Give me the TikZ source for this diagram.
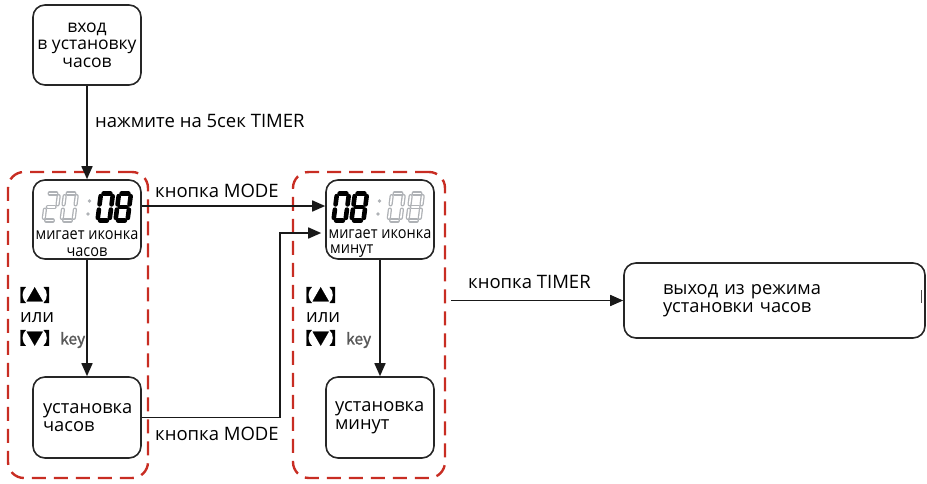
\documentclass[tikz,border=0pt]{standalone}
\usepackage{fontspec}
\setmainfont{Open Sans}
\newfontfamily\cjk{Noto Sans CJK SC}[FakeBold=1.6]
\usetikzlibrary{arrows.meta,calc}
\definecolor{dashred}{RGB}{200,45,35}
\definecolor{segoff}{RGB}{175,178,182}
\def\SA{(2.6,0)--(9.4,0)}
\def\SB{(12,2.6)--(12,10.9)}
\def\SC{(12,16.1)--(12,24.4)}
\def\SD{(2.6,27)--(9.4,27)}
\def\SE{(0,16.1)--(0,24.4)}
\def\SF{(0,2.6)--(0,10.9)}
\def\SG{(2.6,13.5)--(9.4,13.5)}
\newcommand\segdigit[4]{%
  \begin{scope}[shift={(#1,#2)},xslant=0.13]
    \foreach \p in {#4}{\draw[#3] \p;}
  \end{scope}}
\newcommand\tallt[1]{\scalebox{1}[1.12]{#1}}
\begin{document}
\begin{tikzpicture}[x=1pt,y=-1pt,
  box/.style={draw=black!85, line width=1.6pt, rounded corners=12pt, inner sep=0pt, font=\fontsize{18.3}{18}\selectfont},
  grp/.style={draw=dashred, line width=2.4pt, dash pattern=on 14pt off 8pt, rounded corners=16pt, inner sep=0pt},
  arr/.style={line width=1.6pt, draw=black!90, -{Triangle[length=13pt,width=11pt]}},
  lbl/.style={font=\fontsize{18.5}{20}\selectfont, inner sep=0pt, anchor=west},
  small/.style={font=\fontsize{14.5}{15}\selectfont, inner sep=0pt},
  keyl/.style={font=\cjk\fontsize{17}{18}\selectfont, inner sep=0pt, anchor=west},
  segon/.style={line width=4.6pt, black, line cap=round},
  segoffst/.style={line width=1.3pt, draw=segoff, double=white, double distance=1.6pt, line cap=round}
]
\useasboundingbox (0,0) rectangle (927,483);

% groups
\node[grp, minimum width=140pt, minimum height=306pt] (g1) at (78,325) {};
\node[grp, minimum width=152pt, minimum height=306pt] (g2) at (369,325) {};

% boxes
\node[box, minimum width=108pt, minimum height=80pt, align=center, font=\fontsize{17.5}{17.5}\selectfont] (b1) at (87,45) {вход\\в установку\\часов};
\node[box, minimum width=108pt, minimum height=79pt] (b2) at (87,219.5) {};
\node[box, minimum width=108pt, minimum height=81pt, text width=88pt, align=left] (b3) at (87,417.5) {установка\\часов};
\node[box, minimum width=108pt, minimum height=79pt] (b4) at (380,219.5) {};
\node[box, minimum width=108pt, minimum height=81pt, text width=90pt, align=left] (b5) at (380,417.5) {установка\\минут};
\node[box, minimum width=301pt, minimum height=75pt, text width=223pt, align=left] (b6) at (774.5,300.5) {выход из режима\\установки часов};
\draw[line width=1pt, black!70] (921,290) -- (921,303);

% digits in box 2: 20:08
\segdigit{47}{193.5}{segoffst}{\SA,\SB,\SG,\SE,\SD}
\segdigit{65}{193.5}{segoffst}{\SA,\SB,\SC,\SD,\SE,\SF}
\fill[segoff] (89.5,201) circle[radius=1.8pt] (88,214) circle[radius=1.8pt];
\segdigit{101}{193.5}{segon}{\SA,\SB,\SC,\SD,\SE,\SF}
\segdigit{119}{193.5}{segon}{\SA,\SB,\SC,\SD,\SE,\SF,\SG}
\node[small] (t2a) at (87,235) {\tallt{мигает иконка}};
\node[small] (t2b) at (87,252) {\tallt{часов}};

% digits in box 4: 08:08
\segdigit{337}{193.5}{segon}{\SA,\SB,\SC,\SD,\SE,\SF}
\segdigit{355}{193.5}{segon}{\SA,\SB,\SC,\SD,\SE,\SF,\SG}
\fill[segoff] (379.5,201) circle[radius=1.8pt] (378,214) circle[radius=1.8pt];
\segdigit{392}{193.5}{segoffst}{\SA,\SB,\SC,\SD,\SE,\SF}
\segdigit{411}{193.5}{segoffst}{\SA,\SB,\SC,\SD,\SE,\SF,\SG}
\node[small] (t4a) at (380,234) {\tallt{мигает иконка}};
\node[small, anchor=west] (t4b) at (330,251) {\tallt{минут}};

% connectors
\draw[arr] (b1.south) -- (b2.north);
\node[lbl] (l1) at (95,121) {нажмите на 5сек TIMER};

\draw[arr] ([yshift=13.5pt]b2.east) -- ([yshift=13.5pt]b4.west);
\node[lbl] (l2) at (155,191) {кнопка MODE};

\coordinate (turn) at (280,417.5);
\draw[arr] (b3.east) -- (turn) |- ([yshift=-13.5pt,xshift=-4pt]b4.west);
\node[lbl] (l3) at (155,434) {кнопка MODE};

\draw[arr] (b2.south) -- (b3.north);
\draw[arr] (b4.south) -- (b5.north);

\path (g2.east) ++(5,0) coordinate (g2o);
\draw[arr] (g2o |- b6.west) -- (b6.west);
\node[lbl] (l4) at (468,282) {кнопка TIMER};

% key hints
\node[keyl] (k1) at (9,295) {【▲】};
\node[lbl] (k2) at (20,318) {или};
\node[keyl] (k3) at (9,339) {【▼】\textcolor{black!65}{\fontsize{15.5}{16}\selectfont key}};
\node[keyl] (k4) at (295,295) {【▲】};
\node[lbl] (k5) at (306,318) {или};
\node[keyl] (k6) at (295,339) {【▼】\textcolor{black!65}{\fontsize{15.5}{16}\selectfont key}};
\end{tikzpicture}
\end{document}
